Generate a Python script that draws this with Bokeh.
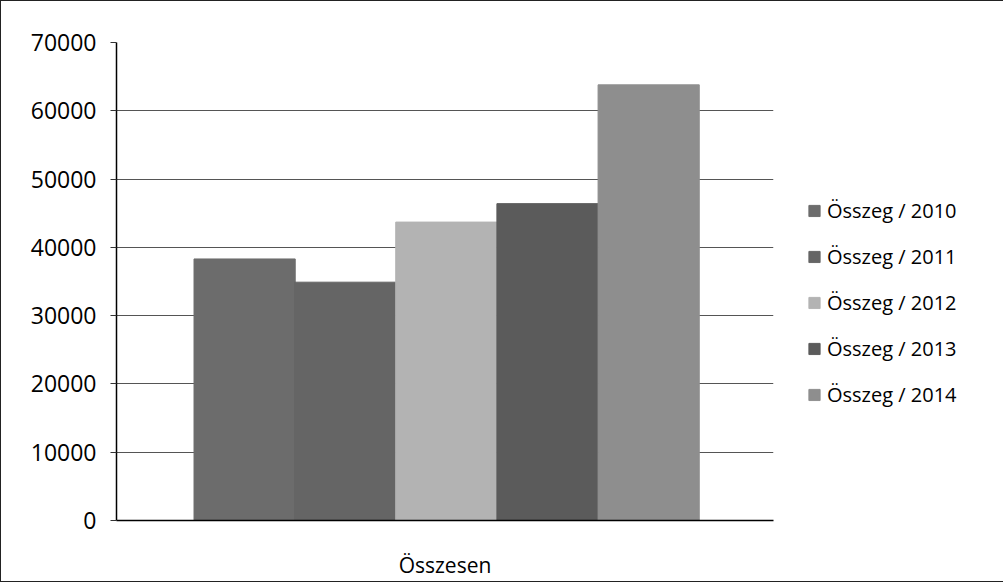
from bokeh.plotting import figure
from bokeh.models import ColumnDataSource, Range1d, FixedTicker, Legend, LegendItem
from bokeh.transform import dodge
from bokeh.embed import file_html
from bokeh.resources import INLINE

# ---- data ----
categories = ["Összesen"]
series_labels = ["Összeg / 2010", "Összeg / 2011", "Összeg / 2012", "Összeg / 2013", "Összeg / 2014"]
series_keys = ["y2010", "y2011", "y2012", "y2013", "y2014"]
values_2010 = [38300]
values_2011 = [34900]
values_2012 = [43700]
values_2013 = [46400]
values_2014 = [63800]
y_ticks = [0, 10000, 20000, 30000, 40000, 50000, 60000, 70000]

# ---- styles ----
colors = ["#6c6c6c", "#656565", "#b3b3b3", "#5b5b5b", "#8e8e8e"]
offsets = [-0.305, -0.152, 0.002, 0.156, 0.310]
bar_w = 0.154
FONT = "Open Sans"

src = ColumnDataSource(dict(cat=categories, y2010=values_2010, y2011=values_2011,
                            y2012=values_2012, y2013=values_2013, y2014=values_2014))

p = figure(x_range=categories, y_range=Range1d(0, 70000),
           frame_width=657, frame_height=478, output_backend="svg", toolbar_location=None,
           min_border_left=115, min_border_right=0, min_border_top=41, min_border_bottom=56)
p.styles = {"border": "1px solid #222"}
p.outline_line_color = None
p.background_fill_color = "white"
p.border_fill_color = "white"

items = []
for key, lab, col, off in zip(series_keys, series_labels, colors, offsets):
    r = p.vbar(x=dodge("cat", off, range=p.x_range), top=key, width=bar_w, source=src,
               fill_color=col, line_color=col)
    items.append(LegendItem(label=lab, renderers=[r]))

# y axis
p.yaxis.ticker = FixedTicker(ticks=y_ticks)
p.yaxis.axis_line_color = "black"
p.yaxis.axis_line_width = 1.5
p.yaxis.major_tick_out = 6
p.yaxis.major_tick_in = 0
p.yaxis.major_tick_line_color = "#333"
p.yaxis.minor_tick_line_color = None
p.yaxis.major_label_text_font = FONT
p.yaxis.major_label_text_font_size = "23px"
p.yaxis.major_label_text_color = "black"
p.yaxis.major_label_standoff = 14

# x axis
p.xaxis.axis_line_color = "black"
p.xaxis.axis_line_width = 1.5
p.xaxis.major_tick_line_color = None
p.xaxis.minor_tick_line_color = None
p.xaxis.major_label_text_font = FONT
p.xaxis.major_label_text_font_size = "21px"
p.xaxis.major_label_text_color = "black"
p.xaxis.major_label_standoff = 24

# grid
p.xgrid.grid_line_color = None
p.ygrid.grid_line_color = "#555555"
p.ygrid.grid_line_width = 1

legend = Legend(items=items, location="center_left", orientation="vertical")
legend.title = " "
legend.title_text_font_size = "30px"
legend.title_standoff = 8
legend.margin = 34
legend.padding = 0
legend.border_line_color = None
legend.background_fill_alpha = 0
legend.glyph_width = 14
legend.glyph_height = 14
legend.label_height = 22
legend.spacing = 19
legend.label_standoff = 6
legend.label_text_font = FONT
legend.label_text_font_size = "20px"
legend.label_text_color = "black"
p.add_layout(legend, "right")

open("out.html", "w").write(file_html(p, INLINE))
